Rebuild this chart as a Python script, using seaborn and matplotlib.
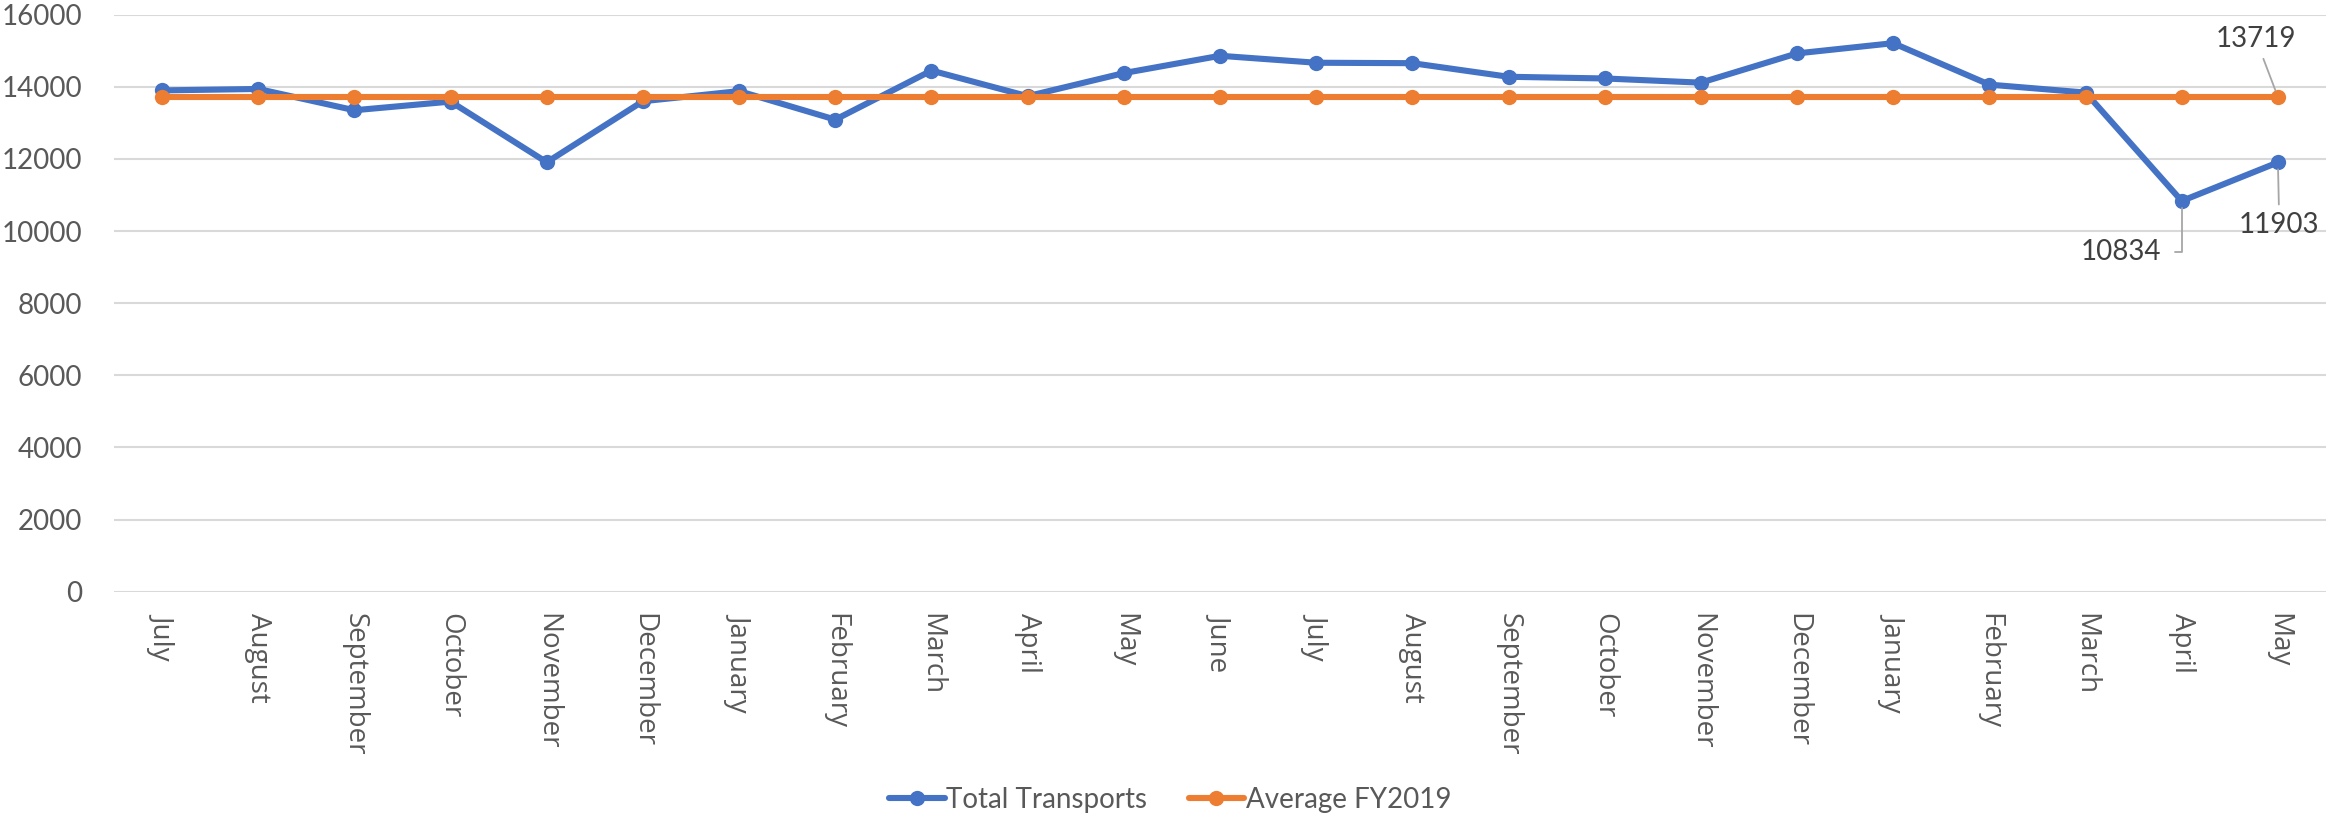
import matplotlib
matplotlib.use('Agg')
import matplotlib.pyplot as plt
import seaborn as sns
import pandas as pd

months = ['July', 'August', 'September', 'October', 'November', 'December', 'January',
          'February', 'March', 'April', 'May', 'June', 'July', 'August', 'September',
          'October', 'November', 'December', 'January', 'February', 'March', 'April', 'May']
total_transports = [13900, 13940, 13350, 13590, 11907, 13600, 13880, 13090, 14450, 13740,
                    14380, 14860, 14667, 14655, 14278, 14231, 14115, 14926, 15210, 14060,
                    13840, 10834, 11903]
average_fy2019 = [13719] * len(months)

blue = '#4472C4'
orange = '#ED7D31'
text_grey = '#595959'
label_font = ['Lato', 'DejaVu Sans']

sns.set_style('white')
plt.rcParams['font.family'] = label_font

df = pd.DataFrame({'idx': range(len(months)), 'total': total_transports, 'avg': average_fy2019})

fig = plt.figure(figsize=(23.26, 8.15), dpi=100)
ax = fig.add_axes([0.049, 0.274, 0.951, 0.708])

sns.lineplot(data=df, x='idx', y='total', ax=ax, color=blue, lw=4.4, marker='o',
             markersize=11, markeredgewidth=0, label='Total Transports', legend=False)
sns.lineplot(data=df, x='idx', y='avg', ax=ax, color=orange, lw=4.4, marker='o',
             markersize=11, markeredgewidth=0, label='Average FY2019', legend=False)

ax.set_xlim(-0.5, len(months) - 0.5)
ax.set_ylim(0, 16000)
ax.set_yticks(range(0, 16001, 2000))
ax.set_xticks(range(len(months)))
ax.set_xticklabels(months, rotation=-90, fontsize=20, family=['Open Sans', 'DejaVu Sans'],
                   color=text_grey, va='top', ha='center')
ax.tick_params(axis='y', labelsize=20, labelcolor=text_grey, length=0, pad=23)
ax.tick_params(axis='x', length=0, pad=15)
ax.grid(axis='y', color='#D9D9D9', lw=1.5)
ax.set_axisbelow(True)
for s in ax.spines.values():
    s.set_visible(False)
ax.set_xlabel('')
ax.set_ylabel('')

lead = dict(arrowstyle='-', color='#A6A6A6', lw=1.3, shrinkA=3, shrinkB=5)
last = len(months) - 1
ax.annotate(str(average_fy2019[last]), xy=(last, average_fy2019[last]),
            xytext=(-16, 42), textcoords='offset points', ha='center', va='center',
            fontsize=20, color='#404040', arrowprops=lead)
ax.annotate(str(total_transports[last]), xy=(last, total_transports[last]),
            xytext=(1, -45), textcoords='offset points', ha='center', va='center',
            fontsize=20, color='#404040', arrowprops=lead)
ax.annotate(str(total_transports[last - 1]), xy=(last - 1, total_transports[last - 1]),
            xytext=(-44, -37), textcoords='offset points', ha='center', va='center',
            fontsize=20, color='#404040',
            arrowprops=dict(lead, shrinkA=8, connectionstyle='angle,angleA=0,angleB=90,rad=0'))

handles, labels = ax.get_legend_handles_labels()
fig.legend(handles, labels, loc='lower center', bbox_to_anchor=(0.503, -0.018), ncol=2,
           frameon=False, fontsize=20, labelcolor=text_grey, handlelength=2.0,
           handletextpad=0.05, columnspacing=1.5, borderaxespad=0.2)

fig.savefig('out.png', dpi=100)
